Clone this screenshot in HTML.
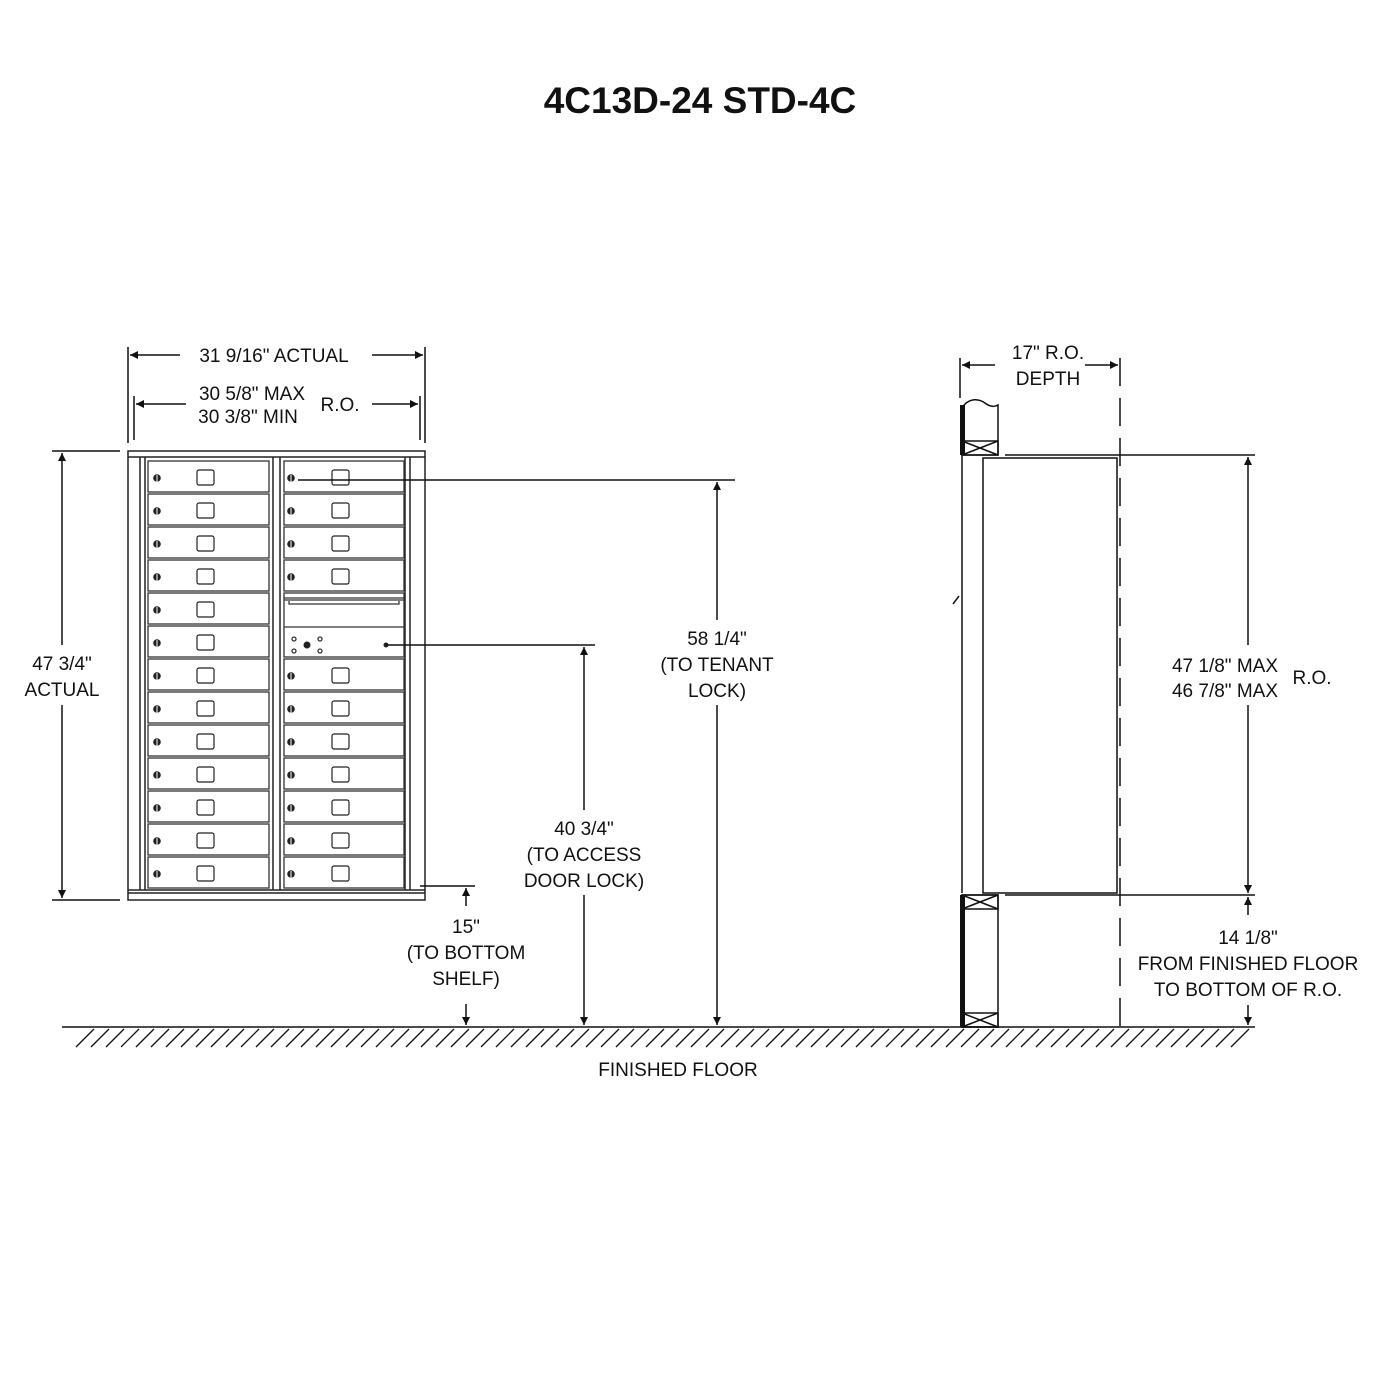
<!DOCTYPE html>
<html><head><style>
html,body{margin:0;padding:0;background:#fff}
svg{display:block}
text{font-family:"Liberation Sans",sans-serif;fill:#111}
.t{font-size:19px;text-anchor:middle}
</style></head><body>
<svg width="1400" height="1400" viewBox="0 0 1400 1400" xmlns="http://www.w3.org/2000/svg">
<defs>
<marker id="a" viewBox="0 0 10 10" refX="10" refY="5" markerWidth="12" markerHeight="8" orient="auto-start-reverse" markerUnits="userSpaceOnUse"><path d="M0,0 L10,5 L0,10 z" fill="#111"/></marker>
<g id="L">
<rect x="148" y="0" width="121" height="31" fill="none" stroke="#333" stroke-width="1.3"/>
<circle cx="157" cy="17" r="3.8" fill="#222"/><line x1="157" y1="14" x2="157" y2="21" stroke="#fff" stroke-width="1"/>
<rect x="197" y="9" width="17" height="15" rx="2" fill="none" stroke="#222" stroke-width="1.2"/>
</g>
<g id="R">
<rect x="284" y="0" width="120" height="31" fill="none" stroke="#333" stroke-width="1.3"/>
<circle cx="291" cy="17" r="3.8" fill="#222"/><line x1="291" y1="14" x2="291" y2="21" stroke="#fff" stroke-width="1"/>
<rect x="332" y="9" width="17" height="15" rx="2" fill="none" stroke="#222" stroke-width="1.2"/>
</g>
</defs>

<text x="700" y="113" style="font-size:37px;font-weight:bold;text-anchor:middle">4C13D-24 STD-4C</text>

<!-- front unit -->
<g fill="none" stroke="#222" stroke-width="1.5">
<rect x="128" y="451" width="297" height="449"/>
<line x1="128" y1="457" x2="425" y2="457"/>
<line x1="140" y1="457" x2="140" y2="890"/><line x1="145" y1="457" x2="145" y2="890"/>
<line x1="410" y1="457" x2="410" y2="890"/><line x1="405" y1="457" x2="405" y2="890"/>
<line x1="128" y1="890" x2="425" y2="890"/><line x1="128" y1="893" x2="425" y2="893"/>
<line x1="273" y1="457" x2="273" y2="890"/><line x1="280" y1="457" x2="280" y2="890"/>
</g>
<use href="#L" y="461"/><use href="#L" y="494"/><use href="#L" y="527"/><use href="#L" y="560"/>
<use href="#L" y="593"/><use href="#L" y="626"/><use href="#L" y="659"/><use href="#L" y="692"/>
<use href="#L" y="725"/><use href="#L" y="758"/><use href="#L" y="791"/><use href="#L" y="824"/><use href="#L" y="857"/>
<use href="#R" y="461"/><use href="#R" y="494"/><use href="#R" y="527"/><use href="#R" y="560"/>
<use href="#R" y="659"/><use href="#R" y="692"/>
<use href="#R" y="725"/><use href="#R" y="758"/><use href="#R" y="791"/><use href="#R" y="824"/><use href="#R" y="857"/>
<g fill="none" stroke="#333" stroke-width="1.3">
<rect x="284" y="593" width="120" height="64"/>
<line x1="284" y1="598" x2="404" y2="598"/><line x1="284" y1="600" x2="404" y2="600"/>
<path d="M289,601 v3 h110 v-3"/>
<line x1="284" y1="627" x2="404" y2="627"/>
<circle cx="294" cy="639" r="2"/><circle cx="320" cy="639" r="2"/><circle cx="294" cy="651" r="2"/><circle cx="320" cy="651" r="2"/>
</g>
<circle cx="307" cy="645" r="3.5" fill="#222"/>
<circle cx="386" cy="645" r="2.5" fill="#222"/>

<!-- dimension lines -->
<g stroke="#111" stroke-width="1.5" fill="none">
<line x1="128" y1="347" x2="128" y2="443"/><line x1="425" y1="347" x2="425" y2="443"/>
<line x1="134" y1="396" x2="134" y2="440"/><line x1="420" y1="396" x2="420" y2="440"/>
<line x1="130" y1="355" x2="180" y2="355" marker-start="url(#a)"/><line x1="372" y1="355" x2="423" y2="355" marker-end="url(#a)"/>
<line x1="136" y1="404" x2="186" y2="404" marker-start="url(#a)"/><line x1="372" y1="404" x2="418" y2="404" marker-end="url(#a)"/>
<line x1="52" y1="451" x2="120" y2="451"/><line x1="52" y1="900" x2="120" y2="900"/>
<line x1="62" y1="453" x2="62" y2="645" marker-start="url(#a)"/><line x1="62" y1="705" x2="62" y2="898" marker-end="url(#a)"/>
<line x1="298" y1="480" x2="735" y2="480"/>
<line x1="717" y1="482" x2="717" y2="620" marker-start="url(#a)"/><line x1="717" y1="705" x2="717" y2="1025" marker-end="url(#a)"/>
<line x1="386" y1="645" x2="595" y2="645"/>
<line x1="584" y1="647" x2="584" y2="810" marker-start="url(#a)"/><line x1="584" y1="895" x2="584" y2="1025" marker-end="url(#a)"/>
<line x1="420" y1="886" x2="475" y2="886"/>
<line x1="466" y1="888" x2="466" y2="906" marker-start="url(#a)"/><line x1="466" y1="1004" x2="466" y2="1025" marker-end="url(#a)"/>
<line x1="62" y1="1027" x2="1255" y2="1027"/>
</g>
<g stroke="#111" stroke-width="1.3">
<path d="M76,1047 l18,-18 M91,1047 l18,-18 M106,1047 l18,-18 M121,1047 l18,-18 M136,1047 l18,-18 M151,1047 l18,-18 M166,1047 l18,-18 M181,1047 l18,-18 M196,1047 l18,-18 M211,1047 l18,-18 M226,1047 l18,-18 M241,1047 l18,-18 M256,1047 l18,-18 M271,1047 l18,-18 M286,1047 l18,-18 M301,1047 l18,-18 M316,1047 l18,-18 M331,1047 l18,-18 M346,1047 l18,-18 M361,1047 l18,-18 M376,1047 l18,-18 M391,1047 l18,-18 M406,1047 l18,-18 M421,1047 l18,-18 M436,1047 l18,-18 M451,1047 l18,-18 M466,1047 l18,-18 M481,1047 l18,-18 M496,1047 l18,-18 M511,1047 l18,-18 M526,1047 l18,-18 M541,1047 l18,-18 M556,1047 l18,-18 M571,1047 l18,-18 M586,1047 l18,-18 M601,1047 l18,-18 M616,1047 l18,-18 M631,1047 l18,-18 M646,1047 l18,-18 M661,1047 l18,-18 M676,1047 l18,-18 M691,1047 l18,-18 M706,1047 l18,-18 M721,1047 l18,-18 M736,1047 l18,-18 M751,1047 l18,-18 M766,1047 l18,-18 M781,1047 l18,-18 M796,1047 l18,-18 M811,1047 l18,-18 M826,1047 l18,-18 M841,1047 l18,-18 M856,1047 l18,-18 M871,1047 l18,-18 M886,1047 l18,-18 M901,1047 l18,-18 M916,1047 l18,-18 M931,1047 l18,-18 M946,1047 l18,-18 M961,1047 l18,-18 M976,1047 l18,-18 M991,1047 l18,-18 M1006,1047 l18,-18 M1021,1047 l18,-18 M1036,1047 l18,-18 M1051,1047 l18,-18 M1066,1047 l18,-18 M1081,1047 l18,-18 M1096,1047 l18,-18 M1111,1047 l18,-18 M1126,1047 l18,-18 M1141,1047 l18,-18 M1156,1047 l18,-18 M1171,1047 l18,-18 M1186,1047 l18,-18 M1201,1047 l18,-18 M1216,1047 l18,-18 M1231,1047 l18,-18"/>
</g>

<!-- side view -->
<g stroke="#111" stroke-width="1.5" fill="none">
<line x1="960" y1="358" x2="960" y2="398"/>
<line x1="1120" y1="358" x2="1120" y2="1027" stroke-dasharray="28,12"/>
<line x1="962" y1="365" x2="995" y2="365" marker-start="url(#a)"/><line x1="1085" y1="365" x2="1118" y2="365" marker-end="url(#a)"/>
<path d="M962,408 C968,398 978,398 985,403 C990,407 995,407 998,405 L998,455 L962,455 Z"/>
<rect x="962" y="441" width="36" height="14"/><path d="M962,441 L998,455 M998,441 L962,455"/>
<line x1="962" y1="455" x2="962" y2="893"/>
<rect x="983" y="458" width="134" height="435"/>
<line x1="1005" y1="455" x2="1255" y2="455"/>
<line x1="1005" y1="895" x2="1255" y2="895"/>
<rect x="962" y="895" width="36" height="132"/>
<rect x="962" y="895" width="36" height="14"/><path d="M962,895 L998,909 M998,895 L962,909"/>
<rect x="962" y="1013" width="36" height="14"/><path d="M962,1013 L998,1027 M998,1013 L962,1027"/>
<line x1="1248" y1="457" x2="1248" y2="645" marker-start="url(#a)"/><line x1="1248" y1="705" x2="1248" y2="893" marker-end="url(#a)"/>
<line x1="1248" y1="897" x2="1248" y2="915" marker-start="url(#a)"/><line x1="1248" y1="1005" x2="1248" y2="1025" marker-end="url(#a)"/>
<line x1="953" y1="604" x2="959" y2="596"/>
</g>
<rect x="960" y="405" width="5" height="50" fill="#111"/>
<rect x="960" y="895" width="5" height="132" fill="#111"/>

<!-- labels -->
<text class="t" x="274" y="362">31 9/16" ACTUAL</text>
<text class="t" x="252" y="400">30 5/8" MAX</text>
<text class="t" x="248" y="423">30 3/8" MIN</text>
<text class="t" x="340" y="411">R.O.</text>
<text class="t" x="62" y="670">47 3/4"</text>
<text class="t" x="62" y="696">ACTUAL</text>
<text class="t" x="717" y="645">58 1/4"</text>
<text class="t" x="717" y="671">(TO TENANT</text>
<text class="t" x="717" y="697">LOCK)</text>
<text class="t" x="584" y="835">40 3/4"</text>
<text class="t" x="584" y="861">(TO ACCESS</text>
<text class="t" x="584" y="887">DOOR LOCK)</text>
<text class="t" x="466" y="933">15"</text>
<text class="t" x="466" y="959">(TO BOTTOM</text>
<text class="t" x="466" y="985">SHELF)</text>
<text class="t" x="678" y="1076">FINISHED FLOOR</text>
<text class="t" x="1048" y="359">17"  R.O.</text>
<text class="t" x="1048" y="385">DEPTH</text>
<text class="t" x="1225" y="672">47 1/8" MAX</text>
<text class="t" x="1225" y="697">46 7/8" MAX</text>
<text class="t" x="1312" y="684">R.O.</text>
<text class="t" x="1248" y="944">14 1/8"</text>
<text class="t" x="1248" y="970">FROM FINISHED FLOOR</text>
<text class="t" x="1248" y="996">TO BOTTOM OF R.O.</text>
</svg>
</body></html>
